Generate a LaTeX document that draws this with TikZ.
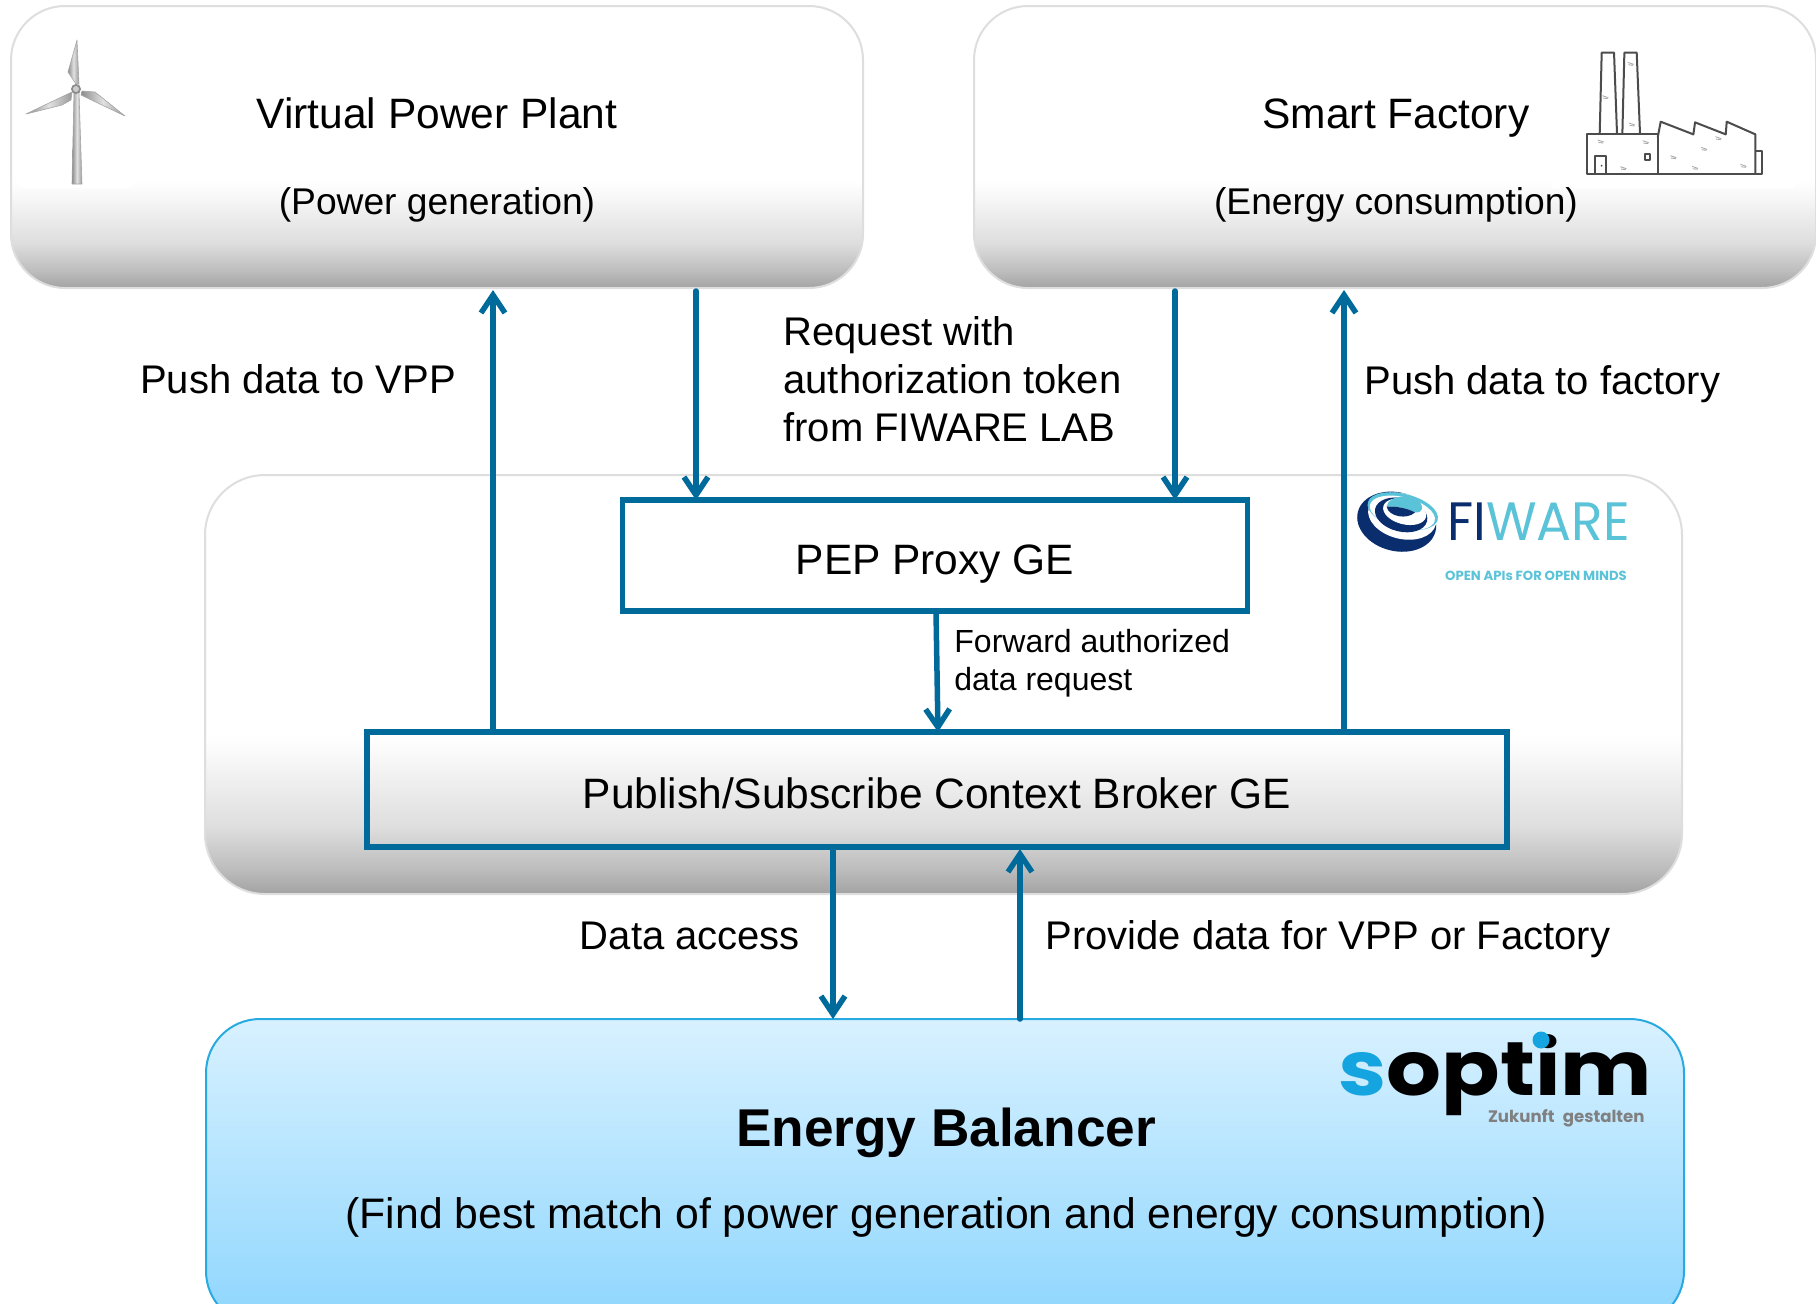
\documentclass[tikz,border=0pt]{standalone}
\usepackage{fontspec}
\setmainfont{Liberation Sans}
\newfontfamily\logofont{Poppins}
\usetikzlibrary{arrows.meta}
\definecolor{flow1}{RGB}{0, 106, 154}
\definecolor{edge1}{RGB}{222, 222, 222}
\definecolor{edge2}{RGB}{40, 170, 225}
\definecolor{navy1}{RGB}{10, 45, 110}
\definecolor{cyan1}{RGB}{91, 195, 216}
\definecolor{blue1}{RGB}{20, 165, 225}
\definecolor{sky1}{RGB}{142, 214, 254}
\definecolor{sky2}{RGB}{216, 241, 255}
\pgfdeclareverticalshading{greybox}{100bp}{color(0bp)=(black!36); color(25bp)=(black!36); color(28bp)=(black!26); color(33bp)=(black!13); color(42bp)=(black!2); color(44bp)=(white); color(100bp)=(white)}
\pgfdeclareverticalshading{bluebox}{100bp}{color(0bp)=(sky1); color(25bp)=(sky1); color(75bp)=(sky2); color(100bp)=(sky2)}
\pgfdeclarehorizontalshading{steel}{100bp}{color(0bp)=(black!45); color(25bp)=(black!45); color(50bp)=(black!12); color(75bp)=(black!40); color(100bp)=(black!40)}
\tikzset{
  greyedge/.style={draw=edge1, line width=1pt, shading=greybox, rounded corners=27pt, inner sep=0pt, outer sep=0pt},
  geblock/.style={draw=flow1, line width=2.75pt, inner sep=0pt, outer sep=0pt},
  flow/.style={draw=flow1, line width=2.75pt, line cap=round, -{Straight Barb[length=9pt,width=12pt,line width=2.75pt]}},
  big/.style={font=\fontsize{21.25}{25}\selectfont},
  mid/.style={font=\fontsize{18.6}{22}\selectfont},
  lab/.style={font=\fontsize{20}{24}\selectfont, align=left},
  small/.style={font=\fontsize{16}{19}\selectfont, align=left},
  wall/.style={draw=black!70, line width=1pt, line join=round},
  speck/.style={draw=black!35, line width=.4pt},
  blade/.style={shading=steel, draw=black!35, line width=.3pt, line join=round}
}
\begin{document}
\begin{tikzpicture}[x=.5pt, y=-.5pt]
 \useasboundingbox (0,0) rectangle (1816,1303);
 \clip (0,0) rectangle (1816,1303);

  % the boxes
  \node[greyedge, minimum width=426pt, minimum height=141pt] (vpp) at (437,147) {};
  \node[greyedge, minimum width=421pt, minimum height=141pt] (factory) at (1395,147) {};
  \node[greyedge, minimum width=738.5pt, minimum height=209.5pt, rounded corners=30pt] (fiware) at (943.5,684.5) {};
  \node[draw=edge2, line width=1pt, shading=bluebox, rounded corners=27pt, inner sep=0pt, outer sep=0pt, minimum width=739pt, minimum height=153pt] (balancer) at (945,1172) {};
  \node[geblock, minimum width=312.5pt, minimum height=55.5pt] (pep) at (935,555.5) {};
  \node[geblock, minimum width=570pt, minimum height=57.5pt] (broker) at (937,789.5) {};

  % white behind the two pictures
  \fill[white] (20,40) rectangle (131,188);
  \fill[white] (1552,40) rectangle (1794,188);

  % turbine
  \path[blade] (72,184) -- (74,92) -- (79,92) -- (82,184) -- cycle;
  \path[blade] (77,40) -- (79,84) -- (76,84) -- (68,72) -- cycle;
  \path[blade] (26,114) -- (72,92) -- (71,100) -- (62,105) -- cycle;
  \path[blade] (125,116) -- (95,92) -- (82,91) -- (81,95) -- cycle;
  \fill[black!45] (76,89) circle (5);
  \fill[black!20] (76,89) circle (3);

  % factory
  \begin{scope}[shift={(1500,0)}, x=.1667pt, y=-.1667pt]
    \draw[wall] (299,402) -- (305,158) -- (342,158) -- (351,402);
    \draw[wall] (367,402) -- (373,158) -- (410,158) -- (420,402);
    \draw[wall] (262,402) rectangle (473,521);
    \draw[wall] (284,521) -- (284,467) -- (319,467) -- (319,521);
    \draw[wall] (435,462) rectangle (449,480);
    \fill[black!70] (305,497) circle (3);
    \draw[wall] (473,412) -- (482,365) -- (580,403) -- (585,367) -- (677,403) -- (680,365) -- (766,403) -- (766,521);
    \draw[wall] (766,452) -- (787,452) -- (787,521) -- (473,521);
    \foreach \spx/\spy in {392/190, 316/290, 396/372, 302/423, 437/425, 370/503, 520/470, 655/413, 612/445, 585/502, 730/496}
      \draw[speck] (\spx-9,\spy-3) -- (\spx+9,\spy+3) (\spx-7,\spy+4) -- (\spx+7,\spy+6);
  \end{scope}

  % fiware logo
  \begin{scope}[shift={(1320,460)}, x=.1667pt, y=-.1667pt]
    \fill[navy1, rotate around={-14:(230,185)}] (230,185) ellipse [x radius=120, y radius=88];
    \fill[white, rotate around={-14:(230,185)}] (242,165) ellipse [x radius=104, y radius=68];
    \fill[cyan1, rotate around={-14:(230,185)}] (240,150) ellipse [x radius=108, y radius=52];
    \fill[white, rotate around={-14:(230,185)}] (240,155) ellipse [x radius=100, y radius=47];
    \fill[navy1, rotate around={-14:(230,185)}] (238,162) ellipse [x radius=80, y radius=50];
    \fill[white, rotate around={-14:(230,185)}] (246,150) ellipse [x radius=66, y radius=38];
    \fill[cyan1] (200,140) .. controls (205,105) and (270,100) .. (298,125) .. controls (312,140) and (308,160) .. (285,157) .. controls (262,145) and (230,138) .. cycle;
    \fill[navy1] (200,140) .. controls (230,138) and (262,145) .. (285,157) .. controls (262,180) and (205,170) .. cycle;
  \end{scope}
  \node[inner sep=0pt, anchor=west, font=\logofont\fontsize{27}{30}\selectfont] (fiwarename) at (1447,522) {\scalebox{.96}[1]{\textcolor{navy1}{FI}\textcolor{cyan1}{WARE}}};
  \node[inner sep=0pt, font=\logofont\bfseries\fontsize{6.6}{8}\selectfont, text=cyan1] (fiwareline) at (1536,576) {OPEN APIs FOR OPEN MINDS};

  % soptim logo
  \node[inner sep=0pt, anchor=west, font=\logofont\bfseries\fontsize{38}{40}\selectfont] (soptim) at (1338,1075) {\scalebox{1.135}[1]{\textcolor{blue1}{s}optim}};
  \fill[blue1] (1541,1040) circle (8.5);
  \node[inner sep=0pt, anchor=east, font=\logofont\bfseries\fontsize{8.3}{9}\selectfont, text=black!50] (soptimline) at (1645,1118) {Zukunft\enspace gestalten};

  % texts
  \node[big] (vpptitle) at (437,113) {Virtual Power Plant};
  \node[mid] (vppsub) at (437,205) {(Power generation)};
  \node[big] (factorytitle) at (1396,118) {Smart Factory};
  \node[mid] (factorysub) at (1396,205) {(Energy consumption)};
  \node[lab] (pushvpp) at (298,379) {Push data to VPP};
  \node[lab, anchor=west, inner sep=0pt] (request) at (783,379) {Request with\\authorization token\\from FIWARE LAB};
  \node[lab, anchor=west, inner sep=0pt] (pushfactory) at (1364,384) {Push data to factory};
  \node[big] (peptext) at (935,564) {PEP Proxy GE};
  \node[small, anchor=west, inner sep=0pt] (forward) at (954,663) {Forward authorized\\data request};
  \node[big] (brokertext) at (937,793) {Publish/Subscribe Context Broker GE};
  \node[lab] (dataaccess) at (690,936) {Data access};
  \node[lab, anchor=west, inner sep=0pt] (provide) at (1045,939) {Provide data for VPP or Factory};
  \node[font=\fontsize{26.6}{30}\selectfont\bfseries] (balancertitle) at (946,1133) {Energy Balancer};
  \node[font=\fontsize{21.35}{25}\selectfont] (balancersub) at (946,1217) {(Find best match of power generation and energy consumption)};

  % connectors
  \foreach \from/\to/\xpos in {broker/vpp/493, broker/factory/1344, balancer/broker/1020}
   \draw[flow, shorten >=1pt] (\from.north -| \xpos,0) -- (\to.south -| \xpos,0);
  \foreach \from/\to/\xpos in {vpp/pep/696, factory/pep/1175, broker/balancer/833}
   \draw[flow, shorten <=1.5pt] (\from.south -| \xpos,0) -- (\to.north -| \xpos,0);
  \coordinate (forwardtop) at (pep.south -| 936,0);
  \coordinate (forwardend) at (broker.north -| 938,0);
  \draw[flow] (forwardtop) -- (forwardend);
\end{tikzpicture}
\end{document}
